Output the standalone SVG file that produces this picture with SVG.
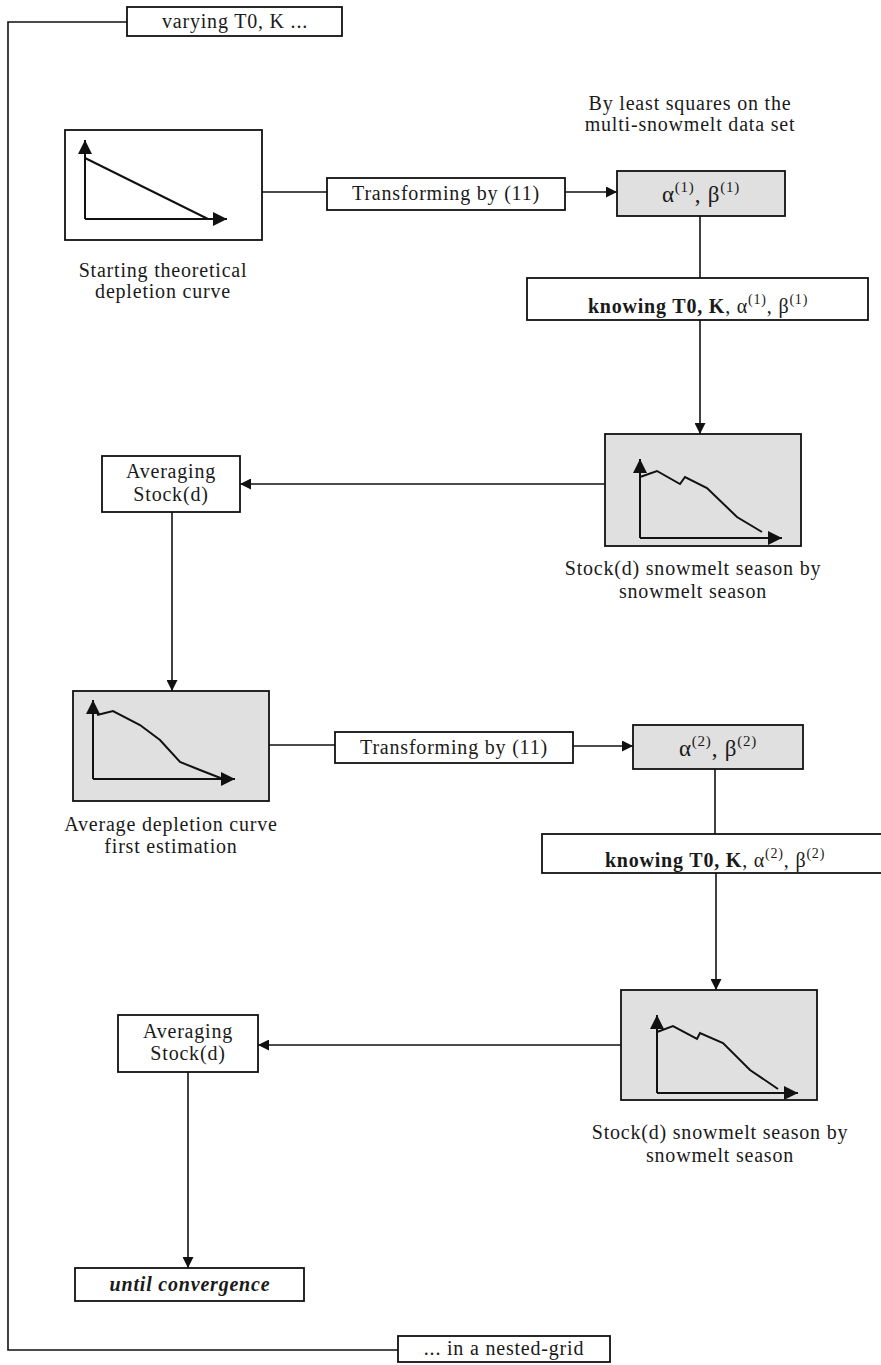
<svg xmlns="http://www.w3.org/2000/svg" width="881" height="1365" viewBox="0 0 881 1365">
<defs>
<style>
.box{fill:#fff;stroke:#111;stroke-width:1.8}
.gbox{fill:#e0e0e0;stroke:#111;stroke-width:1.8}
.ln{fill:none;stroke:#111;stroke-width:1.6}
.ax{fill:none;stroke:#111;stroke-width:2}
.cv{fill:none;stroke:#111;stroke-width:2}
text{font-family:"Liberation Serif","Times New Roman",serif;font-size:20px;letter-spacing:0.8px;fill:#1a1a1a;text-anchor:middle}
.b{font-weight:bold}
.bi{font-weight:bold;font-style:italic}
.sup{font-size:14px}
.big{font-size:23px}
.bsup{font-size:15px}
</style>
<marker id="ah" viewBox="0 0 10 10" refX="10" refY="5" markerWidth="11" markerHeight="11" markerUnits="userSpaceOnUse" orient="auto">
<path d="M0,0 L10,5 L0,10 z" fill="#111"/>
</marker>
<marker id="ah2" viewBox="0 0 10 10" refX="10" refY="5" markerWidth="14" markerHeight="14" markerUnits="userSpaceOnUse" orient="auto">
<path d="M0,0 L10,5 L0,10 z" fill="#111"/>
</marker>
</defs>

<g id="connectors">
<polyline class="ln" points="127,22 8,22 8,1350 398,1350"/>
<line class="ln" x1="262" y1="192" x2="327" y2="192"/>
<line class="ln" x1="565" y1="192" x2="617" y2="192" marker-end="url(#ah)"/>
<line class="ln" x1="700" y1="216" x2="700" y2="278"/>
<line class="ln" x1="700" y1="320" x2="700" y2="434" marker-end="url(#ah)"/>
<line class="ln" x1="605" y1="484" x2="240" y2="484" marker-end="url(#ah)"/>
<line class="ln" x1="172" y1="512" x2="172" y2="691" marker-end="url(#ah)"/>
<line class="ln" x1="269" y1="745" x2="335" y2="745"/>
<line class="ln" x1="573" y1="746" x2="633" y2="746" marker-end="url(#ah)"/>
<line class="ln" x1="715" y1="769" x2="715" y2="834"/>
<line class="ln" x1="716" y1="873" x2="716" y2="990" marker-end="url(#ah)"/>
<line class="ln" x1="621" y1="1045" x2="258" y2="1045" marker-end="url(#ah)"/>
<line class="ln" x1="188" y1="1072" x2="188" y2="1268" marker-end="url(#ah)"/>
</g>

<g id="varying">
<rect class="box" x="127" y="7" width="215" height="29"/>
<text x="235" y="28">varying T0, K ...</text>
</g>

<g id="nested-grid">
<rect class="box" x="398" y="1336" width="212" height="26"/>
<text x="504" y="1355">... in a nested-grid</text>
</g>

<g id="starting-curve">
<rect class="box" x="65" y="130" width="197" height="110"/>
<line class="ax" x1="85" y1="219" x2="85" y2="140" marker-end="url(#ah2)"/>
<line class="ax" x1="85" y1="219" x2="227" y2="219" marker-end="url(#ah2)"/>
<line class="cv" x1="85" y1="158" x2="208" y2="219"/>
<text x="163" y="277">Starting theoretical</text>
<text x="163" y="298">depletion curve</text>
</g>

<g id="transform1">
<rect class="box" x="327" y="178" width="238" height="32"/>
<text x="446" y="200">Transforming by (11)</text>
</g>

<g id="ls-note">
<text x="690" y="110">By least squares on the</text>
<text x="690" y="131">multi-snowmelt data set</text>
</g>

<g id="alpha1">
<rect class="gbox" x="617" y="171" width="168" height="45"/>
<text class="big" x="701" y="202">α<tspan class="bsup" dy="-10">(1)</tspan><tspan dy="10">, β</tspan><tspan class="bsup" dy="-10">(1)</tspan></text>
</g>

<g id="knowing1">
<rect class="box" x="527" y="278" width="341" height="42"/>
<text x="698" y="313"><tspan class="b">knowing T0, K</tspan>, α<tspan class="sup" dy="-9">(1)</tspan><tspan dy="9">, β</tspan><tspan class="sup" dy="-9">(1)</tspan></text>
</g>

<g id="stock1">
<rect class="gbox" x="605" y="434" width="196" height="112"/>
<line class="ax" x1="640" y1="538" x2="640" y2="459" marker-end="url(#ah2)"/>
<line class="ax" x1="640" y1="538" x2="782" y2="538" marker-end="url(#ah2)"/>
<polyline class="cv" points="640,477 657,471 680,484 685,477 707,488 737,517 762,532"/>
<text x="693" y="575">Stock(d) snowmelt season by</text>
<text x="693" y="598">snowmelt season</text>
</g>

<g id="averaging1">
<rect class="box" x="102" y="456" width="138" height="56"/>
<text x="171" y="478">Averaging</text>
<text x="171" y="501">Stock(d)</text>
</g>

<g id="avg-curve">
<rect class="gbox" x="73" y="691" width="196" height="110"/>
<line class="ax" x1="93" y1="779" x2="93" y2="700" marker-end="url(#ah2)"/>
<line class="ax" x1="93" y1="779" x2="235" y2="779" marker-end="url(#ah2)"/>
<polyline class="cv" points="97,715 113,711 140,725 160,740 180,762 200,770 223,779"/>
<text x="171" y="831">Average depletion curve</text>
<text x="171" y="853">first estimation</text>
</g>

<g id="transform2">
<rect class="box" x="335" y="732" width="238" height="31"/>
<text x="454" y="754">Transforming by (11)</text>
</g>

<g id="alpha2">
<rect class="gbox" x="633" y="725" width="170" height="44"/>
<text class="big" x="718" y="756">α<tspan class="bsup" dy="-10">(2)</tspan><tspan dy="10">, β</tspan><tspan class="bsup" dy="-10">(2)</tspan></text>
</g>

<g id="knowing2">
<rect class="box" x="542" y="834" width="345" height="39"/>
<text x="715" y="867"><tspan class="b">knowing T0, K</tspan>, α<tspan class="sup" dy="-9">(2)</tspan><tspan dy="9">, β</tspan><tspan class="sup" dy="-9">(2)</tspan></text>
</g>

<g id="stock2">
<rect class="gbox" x="621" y="990" width="196" height="110"/>
<line class="ax" x1="657" y1="1093" x2="657" y2="1015" marker-end="url(#ah2)"/>
<line class="ax" x1="657" y1="1093" x2="798" y2="1093" marker-end="url(#ah2)"/>
<polyline class="cv" points="657,1032 673,1026 697,1039 700,1033 723,1043 750,1070 778,1089"/>
<text x="720" y="1139">Stock(d) snowmelt season by</text>
<text x="720" y="1162">snowmelt season</text>
</g>

<g id="averaging2">
<rect class="box" x="118" y="1015" width="140" height="57"/>
<text x="188" y="1038">Averaging</text>
<text x="188" y="1060">Stock(d)</text>
</g>

<g id="convergence">
<rect class="box" x="75" y="1268" width="229" height="33"/>
<text x="190" y="1291" class="bi">until convergence</text>
</g>
</svg>
